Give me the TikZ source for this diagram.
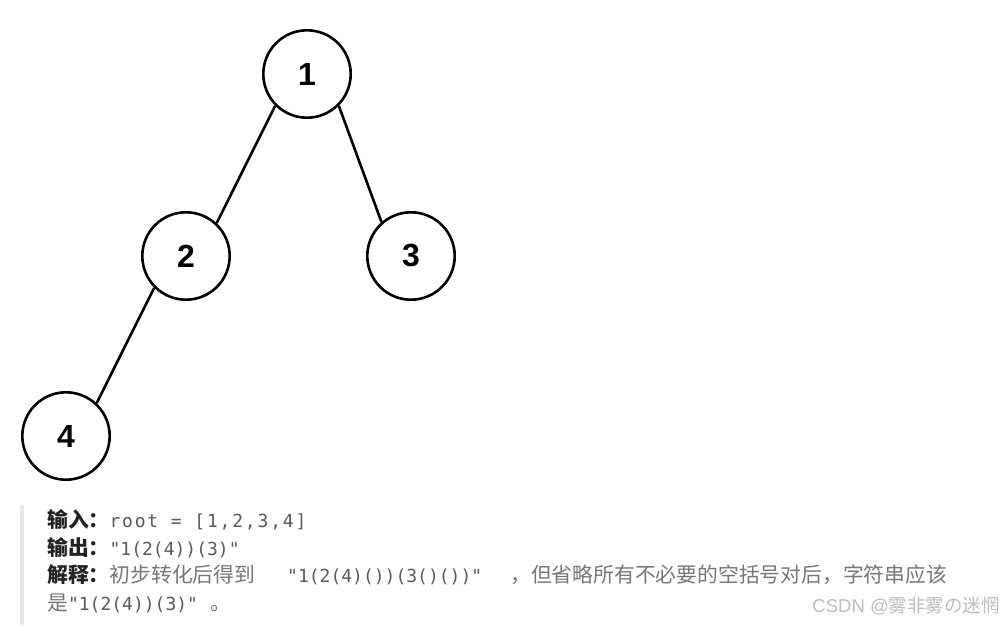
\documentclass[tikz,border=0pt]{standalone}
\usepackage{fontspec}
\setmainfont{Liberation Sans}
\newfontfamily\cjk{Noto Sans CJK SC}
\newfontfamily\codefontwide{DejaVu Sans Mono}[LetterSpace=10,Ligatures=ResetAll]
\newfontfamily\codefont{DejaVu Sans Mono}[Ligatures=ResetAll]
\newfontfamily\numfont{Liberation Sans}
\definecolor{labc}{HTML}{222222}
\definecolor{codec}{HTML}{5A5A5A}
\definecolor{txtc}{HTML}{777777}
\definecolor{barc}{HTML}{E8E8E8}
\definecolor{wmc}{HTML}{BDBDBD}
\tikzset{
  treenode/.style={circle, draw=black, line width=2.6pt, minimum size=87.4pt, inner sep=0pt,
    font=\numfont\bfseries\fontsize{32}{32}\selectfont},
  treeedge/.style={line width=2.6pt},
  textline/.style={anchor=base west, inner sep=0pt, font=\fontsize{20.8}{25}\selectfont},
}
\newcommand{\lbl}[1]{{\cjk\bfseries\color{labc}#1}}
\newcommand{\cdw}[1]{{\codefontwide\fontsize{18}{20}\selectfont\color{codec}#1}}
\newcommand{\cd}[1]{{\codefont\fontsize{18}{20}\selectfont\color{codec}#1}}
\newcommand{\tx}[1]{{\cjk\color{txtc}#1}}
\begin{document}
\begin{tikzpicture}[x=1pt,y=-1pt]
\path[use as bounding box, fill=white] (0,0) rectangle (1006,631);
% tree
\node[treenode] (n1) at (307,74) {1};
\node[treenode] (n2) at (186,256) {2};
\node[treenode] (n3) at (411,256) {3};
\node[treenode] (n4) at (66,436) {4};
\draw[treeedge] (n1.-135) -- (n2.47);
\draw[treeedge] (n1.-45) -- (n3.131);
\draw[treeedge] (n2.-135) -- (n4.47);
% quote bar
\fill[barc] (20,505) rectangle (24,625);
% text lines
\node[textline] (l1) at (47,527) {\lbl{输入：}\cdw{root = [1,2,3,4]}};
\node[textline] (l2) at (47,555) {\lbl{输出：}\cd{"1(2(4))(3)"}};
\node[textline] (l3) at (47,582) {\lbl{解释：}\tx{初步转化后得到}\hspace{32pt}\cd{"1(2(4)())(3()())"}\hspace{28pt}\tx{，但省略所有不必要的空括号对后，字符串应该}};
\node[textline] (l4) at (47,610) {\tx{是}\cd{"1(2(4))(3)"}\hspace{12pt}\tx{。}};
% watermark
\node[anchor=base east, inner sep=0pt, text=wmc, font=\fontsize{18.5}{20}\selectfont] (wm) at (1000,612) {CSDN @{\cjk 雾非雾の迷惘}};
\end{tikzpicture}
\end{document}
